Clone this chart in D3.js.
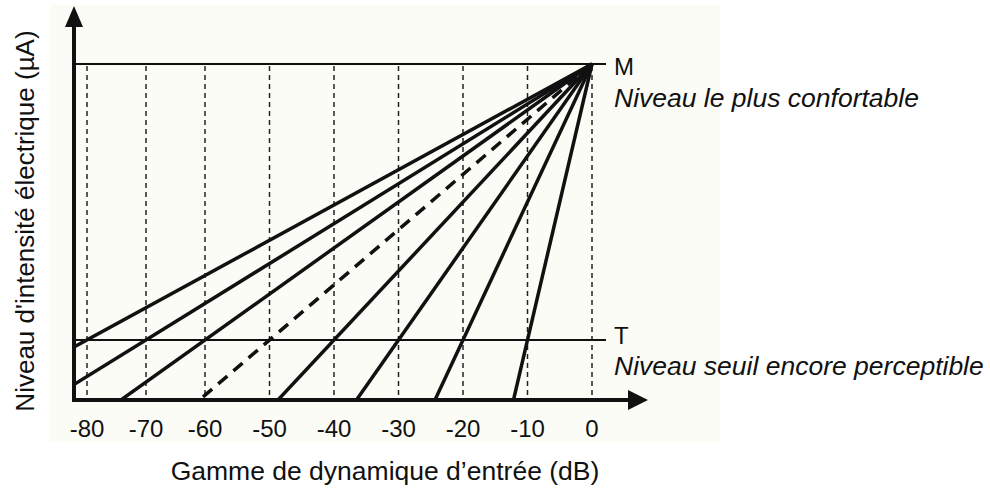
<!DOCTYPE html>
<html>
<head>
<meta charset="utf-8">
<script src="https://cdn.jsdelivr.net/npm/d3@7"></script>
<style>
  body { margin: 0; background: #fff; }
  text { font-family: "Liberation Sans", Arial, Helvetica, sans-serif; fill: #111; }
</style>
</head>
<body>
<div id="chart"></div>
<script>
// tick labels of the input dynamic range (dB)
var tickValues = [-80, -70, -60, -50, -40, -30, -20, -10, 0];
// dB value where each mapping line reaches the threshold level T
var crossAtT = [-80, -70, -60, -50, -40, -30, -20, -10];
// which mapping lines are drawn dashed
var dashedLine = [false, false, false, true, false, false, false, false];
// the two reference levels (T = 0, M = 1)
var levelNames = ["T", "M"];
var levelValues = [0, 1];
var levelCaptions = ["Niveau seuil encore perceptible", "Niveau le plus confortable"];

var width = 990, height = 488;
var axisX = 74, axisY = 400;
// vertical offsets of the level letter / caption from its line
var nameDy = [4, 11], captionDy = [35, 43];

var svg = d3.select("#chart").append("svg")
  .attr("width", width)
  .attr("height", height);

// light paper background behind the drawing
svg.append("rect")
  .attr("x", 50).attr("y", 5)
  .attr("width", 670).attr("height", 437)
  .attr("fill", "#fcfcf6");

// the grid of the sketch is slightly uneven, hence the piecewise scale
var x = d3.scaleLinear()
  .domain([-80, -60, 0])
  .range([87, 205, 592]);

var y = d3.scaleLinear()
  .domain([0, 1])
  .range([340, 64]);

var defs = svg.append("defs");
defs.append("clipPath").attr("id", "plotClip")
  .append("rect")
  .attr("x", axisX).attr("y", 0)
  .attr("width", 600).attr("height", axisY);

// dashed vertical grid lines
svg.append("g").selectAll("line")
  .data(tickValues)
  .enter()
  .append("line")
  .attr("x1", function(d){ return x(d); })
  .attr("x2", function(d){ return x(d); })
  .attr("y1", y(1) + 2)
  .attr("y2", axisY)
  .attr("stroke", "#222")
  .attr("stroke-width", 1.5)
  .attr("stroke-dasharray", "5,4");

// M and T horizontal levels
svg.append("g").selectAll("line")
  .data(levelValues)
  .enter()
  .append("line")
  .attr("x1", axisX)
  .attr("x2", x(0) + 14)
  .attr("y1", function(d){ return y(d); })
  .attr("y2", function(d){ return y(d); })
  .attr("stroke", "#111")
  .attr("stroke-width", 2);

// mapping lines: from (0 dB, M) through (value, T), extended to the axes
svg.append("g")
  .attr("clip-path", "url(#plotClip)")
  .selectAll("line")
  .data(crossAtT)
  .enter()
  .append("line")
  .attr("x1", x(0))
  .attr("y1", y(1))
  .attr("x2", function(d){ return x(0) + 3 * (x(d) - x(0)); })
  .attr("y2", function(d){ return y(1) + 3 * (y(0) - y(1)); })
  .attr("stroke", "#111")
  .attr("stroke-width", 3.5)
  .attr("stroke-dasharray", function(d, i){ return dashedLine[i] ? "12,8" : null; });

// axes with arrow heads
svg.append("line")
  .attr("x1", axisX).attr("x2", axisX)
  .attr("y1", axisY + 2).attr("y2", 24)
  .attr("stroke", "#111").attr("stroke-width", 4);
svg.append("path")
  .attr("d", "M" + axisX + ",6L" + (axisX - 9) + ",27L" + (axisX + 9) + ",27Z")
  .attr("fill", "#111");

svg.append("line")
  .attr("x1", axisX - 2).attr("x2", 630)
  .attr("y1", axisY).attr("y2", axisY)
  .attr("stroke", "#111").attr("stroke-width", 4);
svg.append("path")
  .attr("d", "M648," + axisY + "L628," + (axisY - 10) + "L628," + (axisY + 10) + "Z")
  .attr("fill", "#111");

// tick labels
svg.append("g").selectAll("text")
  .data(tickValues)
  .enter()
  .append("text")
  .attr("x", function(d){ return x(d); })
  .attr("y", 437)
  .attr("text-anchor", "middle")
  .style("font-size", "24px")
  .text(function(d){ return d; });

// level labels and captions
svg.append("g").selectAll("text")
  .data(levelValues)
  .enter()
  .append("text")
  .attr("x", 614)
  .attr("y", function(d, i){ return y(d) + nameDy[i]; })
  .style("font-size", "24px")
  .text(function(d, i){ return levelNames[i]; });

svg.append("g").selectAll("text")
  .data(levelValues)
  .enter()
  .append("text")
  .attr("x", 614)
  .attr("y", function(d, i){ return y(d) + captionDy[i]; })
  .style("font-size", "26.5px")
  .style("font-style", "italic")
  .text(function(d, i){ return levelCaptions[i]; });

// axis titles
svg.append("text")
  .attr("x", 385)
  .attr("y", 480)
  .attr("text-anchor", "middle")
  .style("font-size", "26.5px")
  .text("Gamme de dynamique d\u2019entrée (dB)");

svg.append("text")
  .attr("transform", "translate(34,221) rotate(-90)")
  .attr("text-anchor", "middle")
  .style("font-size", "26px")
  .text("Niveau d'intensité électrique (µA)");
</script>
</body>
</html>
